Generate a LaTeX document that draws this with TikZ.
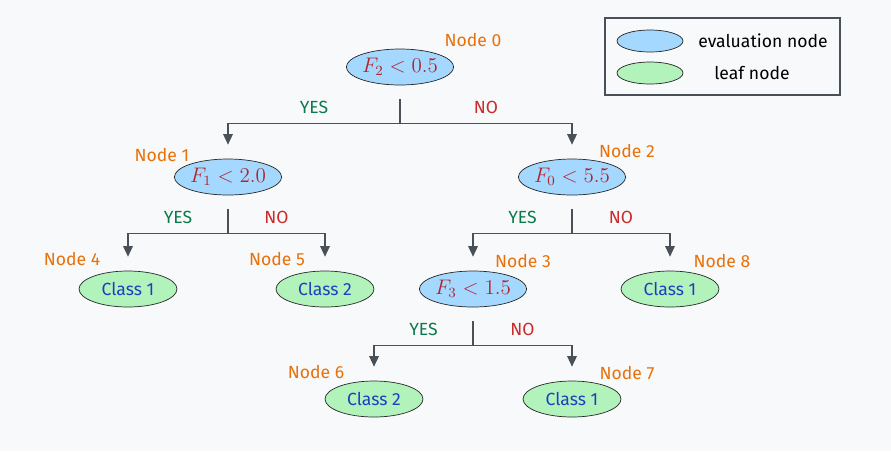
\documentclass[tikz,border=0pt]{standalone}
\usepackage{fontspec}
\setmainfont{Fira Sans}
\usetikzlibrary{shapes.geometric,arrows.meta,calc}

\definecolor{clrback}{HTML}{F8F9FA}
\definecolor{clreval}{HTML}{A5D8FF}
\definecolor{clrleaf}{HTML}{B2F2BB}
\definecolor{clrline}{HTML}{495057}
\definecolor{clrnode}{HTML}{E8710A}
\definecolor{clryes}{HTML}{0B7A4B}
\definecolor{clrno}{HTML}{C92A2A}
\definecolor{clrclass}{HTML}{1C3FC0}
\definecolor{clrmath}{HTML}{B0252A}

\tikzset{
	evalnode/.style={ellipse, draw=black!85, fill=clreval, inner sep=0pt,
		minimum width=2cm, minimum height=0.72cm, text=clrmath, font=\large},
	leafnode/.style={ellipse, draw=black!85, fill=clrleaf, inner sep=0pt,
		minimum width=1.96cm, minimum height=0.72cm, text=clrclass},
	keynode/.style={minimum width=1.32cm, minimum height=0.44cm},
	nodelbl/.style={text=clrnode},
	yeslbl/.style={text=clryes},
	nolbl/.style={text=clrno},
	conn/.style={draw=clrline, line width=0.6pt},
	arr/.style={-{Triangle[length=6pt,width=5.5pt]}}
}

% \mysplit{parent}{yes child}{no child}
\newcommand*{\mysplit}[3]{
	\coordinate (#1j) at ($(#1.south)+(0,38)$);
	\draw [conn] ($(#1.south)+(0,14)$) -- (#1j);
	\draw [conn,arr] (#1j) -| ($(#2.north)+(0,-14)$);
	\draw [conn,arr] (#1j) -| ($(#3.north)+(0,-14)$);
	\node [yeslbl] (#1yes) at ($($(#1j)!0.5!(#1j -| #2)$)+(0,-16)$) {YES};
	\node [nolbl] (#1no) at ($($(#1j)!0.5!(#1j -| #3)$)+(0,-16)$) {NO};
}

\begin{document}
\begin{tikzpicture}[x=0.02cm,y=-0.02cm]

	\fill [clrback] (0,0) rectangle (891,451);

	% tree
	\node [evalnode] (n0) at (400,67) {$F_2 < 0.5$};
	\node [evalnode] (n1) at (228,177) {$F_1 < 2.0$};
	\node [evalnode] (n2) at (572,177) {$F_0 < 5.5$};
	\node [leafnode] (n4) at (128,289) {Class 1};
	\node [leafnode] (n5) at (325,289) {Class 2};
	\node [evalnode] (n3) at (473,289) {$F_3 < 1.5$};
	\node [leafnode] (n8) at (670,289) {Class 1};
	\node [leafnode] (n6) at (374,399) {Class 2};
	\node [leafnode] (n7) at (572,399) {Class 1};

	\foreach \n/\dx/\dy in {0/73/-27,1/-66/-22,2/55/-26,4/-56/-30,5/-48/-30,3/50/-28,8/52/-28,6/-58/-27,7/55/-26}{
		\node [nodelbl] (l\n) at ($(n\n)+(\dx,\dy)$) {Node \n};
	}

	\mysplit{n0}{n1}{n2}
	\mysplit{n1}{n4}{n5}
	\mysplit{n2}{n3}{n8}
	\mysplit{n3}{n6}{n7}

	% legend
	\draw [clrline, line width=0.7pt] (605,18) rectangle (840,95);
	\node [evalnode,keynode] (keyeval) at (650,41) {};
	\node [leafnode,keynode] (keyleaf) at (650,73) {};
	\node (keyevaltxt) at (763,41) {evaluation node};
	\node (keyleaftxt) at (752,73) {leaf node};

\end{tikzpicture}
\end{document}
